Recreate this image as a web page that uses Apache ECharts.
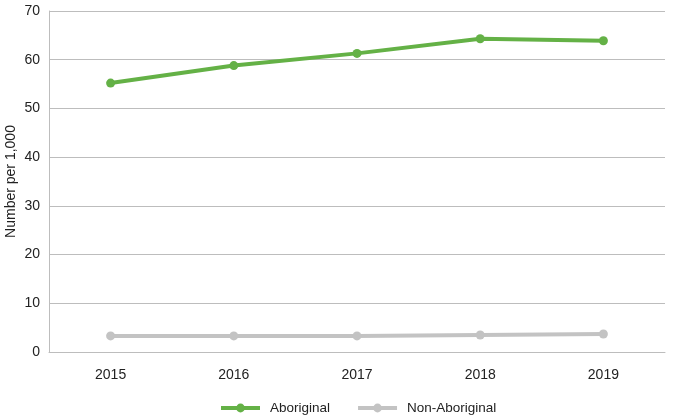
<!DOCTYPE html>
<html><head><meta charset="utf-8">
<script src="https://cdn.jsdelivr.net/npm/echarts@6/dist/echarts.min.js"></script>
<style>html,body{margin:0;padding:0;background:#fff}#c{width:675px;height:420px}</style>
</head><body><div id="c"></div>
<script>
const years = ['2015','2016','2017','2018','2019'];
const aboriginal = [55.2, 58.8, 61.3, 64.3, 63.9];
const nonAboriginal = [3.3, 3.3, 3.3, 3.5, 3.7];
const yTicks = [0,10,20,30,40,50,60,70];

const chart = echarts.init(document.getElementById('c'));
chart.setOption({
  animation:false,
  textStyle:{fontFamily:'Liberation Sans, Arial, sans-serif'},
  grid:{left:49,right:10,top:11,bottom:68,containLabel:false,outerBoundsMode:'none'},
  legend:{bottom:0,left:214,itemWidth:39,itemHeight:11,itemGap:26,
    lineStyle:{width:4},
    textStyle:{fontSize:13.5,color:'#222',padding:[0,0,0,5],fontFamily:'Liberation Sans, Arial, sans-serif'},
    data:['Aboriginal','Non-Aboriginal']},
  xAxis:{type:'category',data:years,boundaryGap:true,
    axisLine:{lineStyle:{color:'#bdbdbd'}},
    axisTick:{alignWithLabel:true,inside:true,length:10,lineStyle:{color:'#bdbdbd'}},
    axisLabel:{fontSize:14,color:'#222',margin:16}},
  yAxis:{type:'value',min:0,max:70,interval:10,
    name:'Number per 1,000',nameLocation:'middle',nameGap:31,nameMoveOverlap:false,
    nameTextStyle:{fontSize:14,color:'#222'},
    axisLine:{show:true,lineStyle:{color:'#bdbdbd'}},
    axisTick:{show:false},
    axisLabel:{fontSize:14,color:'#222',margin:9},
    splitLine:{lineStyle:{color:'#bdbdbd'}}},
  series:[
    {name:'Aboriginal',type:'line',data:aboriginal,symbol:'circle',symbolSize:9,
      lineStyle:{width:4,color:'#64b146'},itemStyle:{color:'#64b146'}},
    {name:'Non-Aboriginal',type:'line',data:nonAboriginal,symbol:'circle',symbolSize:9,
      lineStyle:{width:4,color:'#c3c3c3'},itemStyle:{color:'#c3c3c3'}}
  ]
});
</script></body></html>
